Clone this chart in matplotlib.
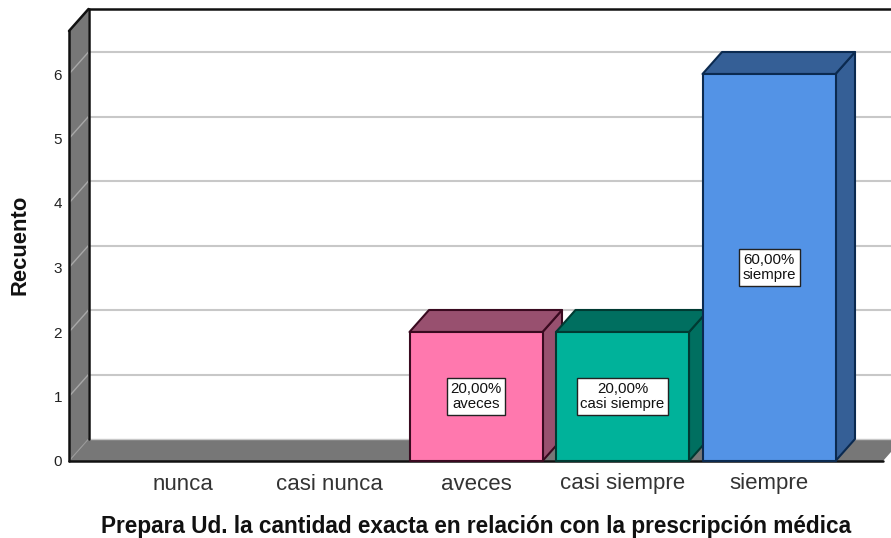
import matplotlib
matplotlib.use("Agg")
import matplotlib.pyplot as plt
from matplotlib.patches import Polygon

plt.rcParams['font.family'] = ['Liberation Sans', 'DejaVu Sans']

# Data
categories = ["nunca", "casi nunca", "aveces", "casi siempre", "siempre"]
counts = [0, 0, 2, 2, 6]
percents = ["", "", "20,00%", "20,00%", "60,00%"]
y_ticks = [0, 1, 2, 3, 4, 5, 6]

front_colors = ["#FF78AE", "#FF78AE", "#FF78AE", "#00B29A", "#5393E6"]
side_colors = ["#98506F", "#98506F", "#98506F", "#006F60", "#355F96"]
edge_colors = ["#3A0A20", "#3A0A20", "#3A0A20", "#003A32", "#0B2A50"]

W, H = 891, 538
fig = plt.figure(figsize=(W / 100, H / 100), dpi=100)
ax = fig.add_axes([69 / W, (H - 461) / H, (W - 69) / W, 452 / H])

# one category is 146.5 px, one count is 64.5 px
x_min = (69 - 183) / 146.5
x_max = (W - 183) / 146.5
floor_end = (883 - 183) / 146.5
y_max = 452 / 64.5
dx = 19.5 / 146.5
dy = 22 / 64.5
bar_w = 133 / 146.5
wall_top = y_max - dy

ax.set_xlim(x_min, x_max)
ax.set_ylim(0, y_max)
for s in ax.spines.values():
    s.set_visible(False)

# Walls and floor
ax.add_patch(Polygon([(x_min, 0), (x_min + dx, dy), (x_min + dx, y_max), (x_min, wall_top)],
                     closed=True, fc="#777777", ec="none", zorder=1))
ax.add_patch(Polygon([(x_min, 0), (x_min + dx, dy), (floor_end + dx, dy), (floor_end, 0)],
                     closed=True, fc="#777777", ec="none", zorder=1, clip_on=True))

# Gridlines on back wall and side wall
for v in y_ticks[1:]:
    ax.plot([x_min + dx, x_max], [v + dy, v + dy], color="#C8C8C8", lw=1.5, zorder=1.5)
    ax.plot([x_min, x_min + dx], [v, v + dy], color="#A8A8A8", lw=1.0, zorder=1.5)
ax.plot([x_min, x_min + dx], [0, dy], color="#999999", lw=0.8, zorder=1.5)
ax.plot([x_min + dx, x_max], [dy, dy], color="#C8C8C8", lw=1.0, zorder=1.6)

# Frame lines
frame = dict(color="#111111", lw=1.8, zorder=2, solid_capstyle="round", clip_on=False)
ax.plot([x_min, x_min], [0, wall_top], **frame)
ax.plot([x_min + dx, x_min + dx], [dy, y_max], **frame)
ax.plot([x_min, x_min + dx], [wall_top, y_max], **frame)
ax.plot([x_min + dx, x_max], [y_max - 0.005, y_max - 0.005], **frame)
ax.plot([x_min, floor_end], [0, 0], **frame)

# Bars
for i, (name, c) in enumerate(zip(categories, counts)):
    if c == 0:
        continue
    x0 = i - bar_w / 2
    x1 = i + bar_w / 2
    z = 3 + i
    style = dict(closed=True, ec=edge_colors[i], lw=1.5, joinstyle="round", zorder=z, clip_on=False)
    ax.add_patch(Polygon([(x1, 0), (x1 + dx, dy), (x1 + dx, c + dy), (x1, c)], fc=side_colors[i], **style))
    ax.add_patch(Polygon([(x0, c), (x0 + dx, c + dy), (x1 + dx, c + dy), (x1, c)], fc=side_colors[i], **style))
    ax.add_patch(Polygon([(x0, 0), (x0, c), (x1, c), (x1, 0)], fc=front_colors[i], **style))
    ax.text(i, c / 2, percents[i] + "\n" + name, ha="center", va="center", fontsize=10.8,
            linespacing=1.08, color="#111111", zorder=z + 0.5,
            bbox=dict(boxstyle="square,pad=0.25", fc="white", ec="#222222", lw=1.0))

# Axes text
ax.set_yticks(y_ticks)
ax.set_yticklabels([str(v) for v in y_ticks], fontsize=11, color="#222222")
ax.set_xticks(range(len(categories)))
ax.set_xticklabels(categories, fontsize=16, color="#333333")
ax.tick_params(axis="both", length=0)
ax.tick_params(axis="y", pad=5)
ax.tick_params(axis="x", pad=9)

fig.text(476 / W, 1 - 527 / H, "Prepara Ud. la cantidad exacta en relación con la prescripción médica",
         ha="center", va="center", fontsize=16.3, fontweight="bold", color="#111111")
fig.text(20.5 / W, 1 - 245 / H, "Recuento", rotation=90, ha="center", va="center",
         fontsize=15.8, fontweight="bold", color="#111111")

fig.savefig("out.png", dpi=100)
